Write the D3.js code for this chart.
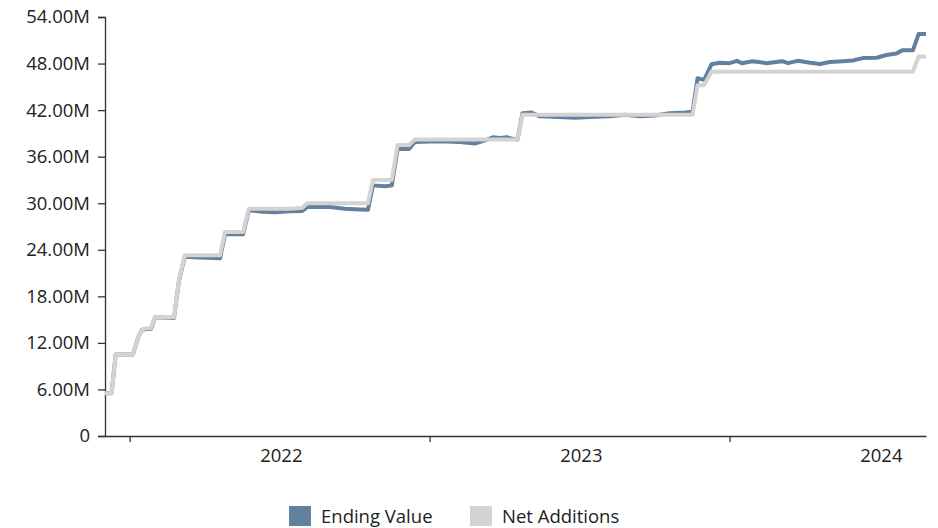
<!DOCTYPE html>
<html>
<head>
<meta charset="utf-8">
<script src="https://cdn.jsdelivr.net/npm/d3@7"></script>
<style>
  html, body { margin: 0; padding: 0; background: #fff; }
  svg text { font-family: "Open Sans", "Noto Sans", sans-serif; fill: #222; }
</style>
</head>
<body>
<svg id="chart" width="938" height="528"></svg>
<script>
// Observation dates shared by both series
const dates = [
  "2021-06-01","2021-06-09","2021-06-14","2021-07-05","2021-07-11","2021-07-16","2021-07-22","2021-07-27",
  "2021-08-01","2021-08-24","2021-08-30","2021-09-06","2021-09-24","2021-10-19","2021-10-25","2021-11-16",
  "2021-11-23","2021-12-09","2021-12-25","2022-01-12","2022-01-27","2022-02-02","2022-03-02","2022-03-20",
  "2022-04-07","2022-04-17","2022-04-23","2022-05-08","2022-05-16","2022-05-23","2022-06-06","2022-06-13",
  "2022-07-13","2022-08-07","2022-08-25","2022-09-09","2022-09-16","2022-09-24","2022-10-03","2022-10-10",
  "2022-10-16","2022-10-22","2022-11-02","2022-11-12","2022-12-06","2022-12-25","2023-01-12","2023-02-05",
  "2023-02-24","2023-03-14","2023-04-01","2023-04-19","2023-05-08","2023-05-17","2023-05-23","2023-05-31",
  "2023-06-09","2023-06-19","2023-07-01","2023-07-10","2023-07-16","2023-07-29","2023-08-15","2023-09-03",
  "2023-09-10","2023-09-22","2023-10-07","2023-10-19","2023-10-31","2023-11-16","2023-11-28","2023-12-10",
  "2023-12-27","2024-01-08","2024-01-20","2024-01-27","2024-02-09","2024-02-16","2024-02-25"
];

// Ending Value, in millions
const endingValue = [
  5.5, 5.5, 10.5, 10.5, 12.6, 13.7, 13.8, 13.8,
  15.3, 15.2, 20.0, 23.1, 23.0, 22.9, 26.0, 26.0,
  29.1, 28.9, 28.85, 28.95, 29.0, 29.5, 29.5, 29.3,
  29.2, 29.15, 32.3, 32.2, 32.3, 37.0, 37.0, 37.9,
  38.0, 37.9, 37.7, 38.2, 38.5, 38.4, 38.5, 38.3,
  38.2, 41.6, 41.7, 41.2, 41.1, 41.0, 41.1, 41.2,
  41.4, 41.2, 41.3, 41.6, 41.7, 41.8, 46.1, 45.9,
  47.9, 48.1, 48.05, 48.35, 48.05, 48.3, 48.05, 48.3,
  48.05, 48.35, 48.1, 47.95, 48.2, 48.3, 48.4, 48.7,
  48.75, 49.1, 49.3, 49.7, 49.7, 51.8, 51.8
];

// Net Additions, in millions
const netAdditions = [
  5.5, 5.5, 10.5, 10.5, 12.6, 13.7, 13.9, 13.9,
  15.3, 15.3, 20.1, 23.3, 23.3, 23.3, 26.3, 26.3,
  29.3, 29.3, 29.3, 29.3, 29.4, 30.0, 30.0, 30.0,
  30.0, 30.0, 33.0, 33.0, 33.0, 37.5, 37.5, 38.2,
  38.2, 38.2, 38.2, 38.2, 38.2, 38.2, 38.2, 38.2,
  38.2, 41.4, 41.4, 41.4, 41.4, 41.4, 41.4, 41.4,
  41.4, 41.4, 41.4, 41.4, 41.4, 41.4, 45.2, 45.2,
  46.95, 46.95, 46.95, 46.95, 46.95, 46.95, 46.95, 46.95,
  46.95, 46.95, 46.95, 46.95, 46.95, 46.95, 46.95, 46.95,
  46.95, 46.95, 46.95, 46.95, 46.95, 48.9, 48.9
];

// Axis ticks: marks at mid-year, year labels at the start of each year
const xTickDates = ["2021-07-01", "2022-07-01", "2023-07-01"];
const xLabelDates = ["2022-01-01", "2023-01-01", "2024-01-01"];
const xLabels = ["2022", "2023", "2024"];
const yTicks = [0, 6, 12, 18, 24, 30, 36, 42, 48, 54];

const seriesNames = ["Ending Value", "Net Additions"];
const seriesColors = ["#62819f", "#d3d3d3"];

const parse = d3.timeParse("%Y-%m-%d");
const when = dates.map(parse);

const svg = d3.select("#chart");
const plotLeft = 105, plotRight = 926, plotTop = 17, plotBottom = 436;

const x = d3.scaleTime().domain(d3.extent(when)).range([plotLeft, plotRight]);
const y = d3.scaleLinear().domain([0, 54]).range([plotBottom, plotTop]);

// Y axis
const yAxis = svg.append("g")
  .attr("transform", `translate(${plotLeft},0)`)
  .call(d3.axisLeft(y).tickValues(yTicks).tickSize(7).tickPadding(8)
    .tickFormat(v => v === 0 ? "0" : d3.format(".2f")(v) + "M"));
yAxis.selectAll("text").style("font-size", "18.5px");

// X axis: tick marks
const xAxis = svg.append("g")
  .attr("transform", `translate(0,${plotBottom})`)
  .call(d3.axisBottom(x).tickValues(xTickDates.map(parse)).tickSize(6).tickSizeOuter(0).tickFormat(""));

// X axis: year labels
const xLab = svg.append("g")
  .attr("transform", `translate(0,${plotBottom})`)
  .call(d3.axisBottom(x).tickValues(xLabelDates.map(parse)).tickSize(0).tickPadding(13)
    .tickFormat((d, i) => xLabels[i]));
xLab.select(".domain").remove();
xLab.selectAll("text").style("font-size", "18.5px");

svg.selectAll(".domain, .tick line").attr("stroke", "#333").attr("stroke-width", 1.3);

// Lines
const series = [endingValue, netAdditions];
const line = d3.line()
  .x((d, i) => x(when[i]))
  .y(d => y(d));

series.forEach((vals, k) => {
  svg.append("path")
    .datum(vals)
    .attr("fill", "none")
    .attr("stroke", seriesColors[k])
    .attr("stroke-width", 4)
    .attr("stroke-linejoin", "round")
    .attr("d", line);
});

// Legend
const legendX = [289, 470];
const legend = svg.append("g");
seriesNames.forEach((name, k) => {
  legend.append("rect")
    .attr("x", legendX[k]).attr("y", 506)
    .attr("width", 22).attr("height", 20)
    .attr("fill", seriesColors[k]);
  legend.append("text")
    .attr("x", legendX[k] + 32).attr("y", 523)
    .style("font-size", "18.5px")
    .text(name);
});
</script>
</body>
</html>
